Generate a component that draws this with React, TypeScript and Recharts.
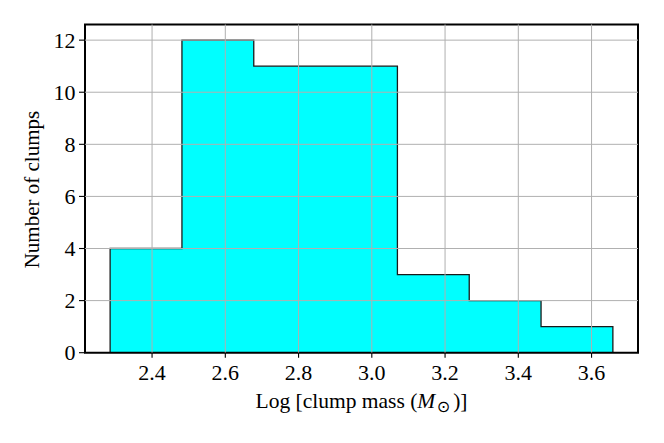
import { Area, ComposedChart, ReferenceArea, ReferenceLine, XAxis, YAxis } from "recharts";

const binEdges = [2.2855, 2.4816, 2.6777, 2.8738, 3.0699, 3.266, 3.4621, 3.6582];
const clumpCounts = [4, 12, 11, 11, 3, 2, 1];
const xTicks = [2.4, 2.6, 2.8, 3.0, 3.2, 3.4, 3.6];
const yTicks = [0, 2, 4, 6, 8, 10, 12];
const xDomain: [number, number] = [2.2169, 3.7268];
const yDomain: [number, number] = [0, 12.6];

const FONT = "'Liberation Serif', 'DejaVu Serif', serif";

// step outline: start on the baseline, one point per bin, close back on the baseline
const stepData = [
  { x: binEdges[0], count: 0 },
  ...clumpCounts.map((c, i) => ({ x: binEdges[i], count: c })),
  { x: binEdges[binEdges.length - 1], count: 0 },
];

function XTick({ x, y, payload }: any) {
  return (
    <text x={x} y={y + 20.5} textAnchor="middle" fontFamily={FONT} fontSize={22} fill="#000">
      {Number(payload.value).toFixed(1)}
    </text>
  );
}

function YTick({ x, y, payload }: any) {
  return (
    <text x={x} y={y} dy="0.34em" textAnchor="end" fontFamily={FONT} fontSize={22} fill="#000">
      {payload.value}
    </text>
  );
}

function XTitle({ viewBox }: any) {
  const cx = viewBox.x + viewBox.width / 2;
  return (
    <text x={cx} y={viewBox.y + 55.5} textAnchor="middle" fontFamily={FONT} fontSize={21.5} fill="#000">
      Log [clump mass (<tspan fontStyle="italic">M</tspan>
      <tspan fontSize={16} dx={1.5} dy={4} fontFamily="'DejaVu Sans', sans-serif">⊙</tspan>
      <tspan dx={3} dy={-4}>)]</tspan>
    </text>
  );
}

function YTitle({ viewBox }: any) {
  const cy = viewBox.y + viewBox.height / 2 + 1;
  return (
    <text
      x={39.5}
      y={cy}
      transform={`rotate(-90, 39.5, ${cy})`}
      textAnchor="middle"
      fontFamily={FONT}
      fontSize={21}
      fill="#000"
    >
      Number of clumps
    </text>
  );
}

export default function App() {
  return (
    <div style={{ position: "absolute", left: 0, top: 0, background: "#fff" }}>
      <ComposedChart
        width={664}
        height={443}
        data={stepData}
        margin={{ top: 24.5, right: 26, bottom: 30.3, left: 0 }}
      >
        <XAxis
          type="number"
          dataKey="x"
          domain={xDomain}
          ticks={xTicks}
          allowDataOverflow
          height={60}
          axisLine={false}
          tickLine={{ stroke: "#000", strokeWidth: 1.1 }}
          tickSize={5}
          tick={<XTick />}
          label={<XTitle />}
        />
        <YAxis
          type="number"
          domain={yDomain}
          ticks={yTicks}
          allowDataOverflow
          width={85}
          axisLine={false}
          tickLine={{ stroke: "#000", strokeWidth: 1.1 }}
          tickSize={6}
          tickMargin={3.5}
          tick={<YTick />}
          label={<YTitle />}
        />
        <Area
          type="stepAfter"
          dataKey="count"
          fill="#00ffff"
          fillOpacity={1}
          stroke="#1a1a1a"
          strokeWidth={1.3}
          dot={false}
          activeDot={false}
          isAnimationActive={false}
        />
        {xTicks.map((t) => (
          <ReferenceLine key={`gx${t}`} x={t} stroke="#b0b0b0" strokeWidth={1} />
        ))}
        {yTicks.slice(1).map((t) => (
          <ReferenceLine key={`gy${t}`} y={t} stroke="#b0b0b0" strokeWidth={1} />
        ))}
        <ReferenceArea
          x1={xDomain[0]}
          x2={xDomain[1]}
          y1={yDomain[0]}
          y2={yDomain[1]}
          fill="none"
          fillOpacity={0}
          stroke="#000"
          strokeWidth={2}
          strokeOpacity={1}
        />
      </ComposedChart>
    </div>
  );
}
